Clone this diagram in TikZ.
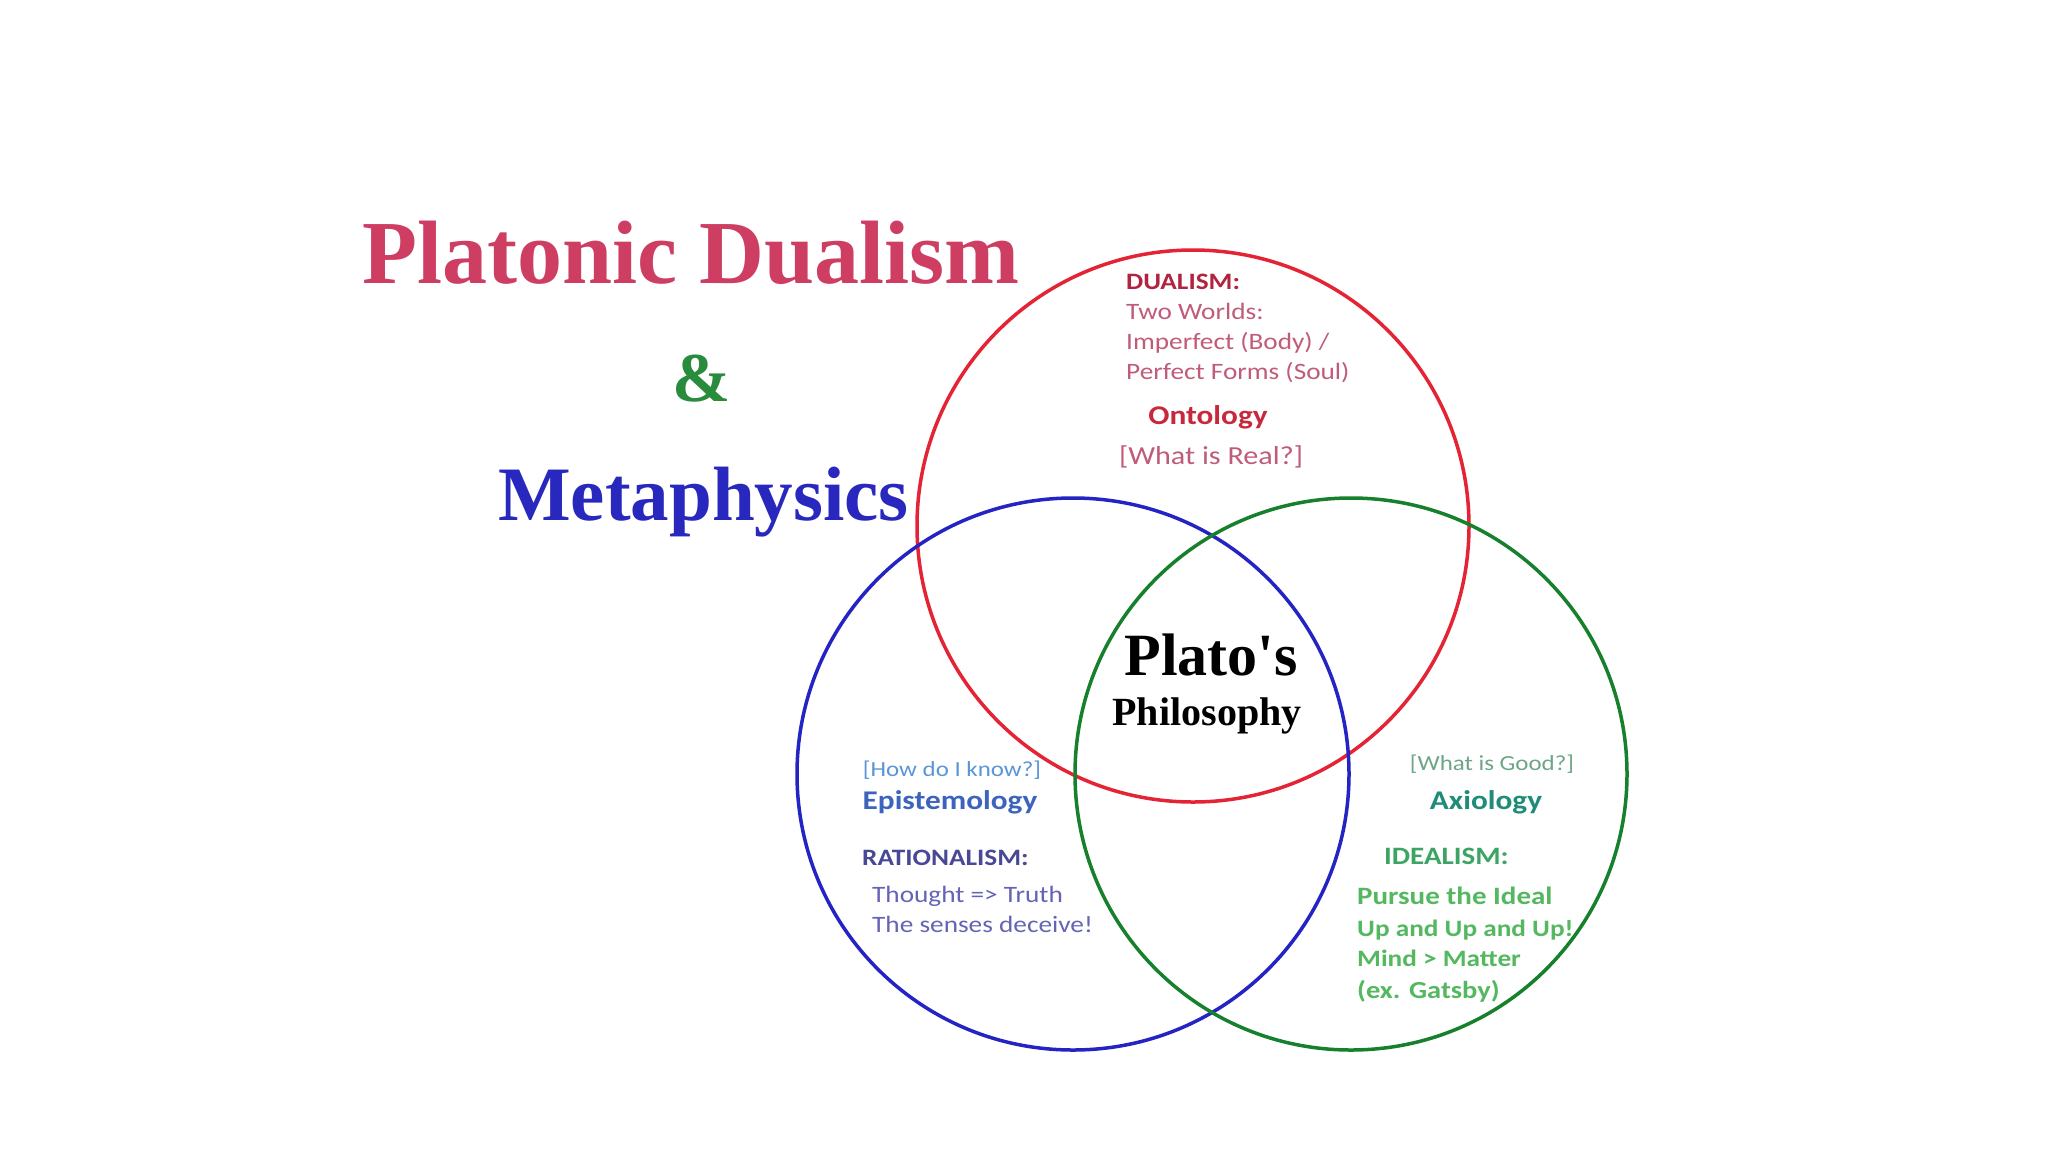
\documentclass[tikz,border=0pt]{standalone}
\usepackage{fontspec}
\setmainfont{Liberation Serif}
\newfontfamily\calfont[FakeStretch=1.16]{Carlito}
\definecolor{titlepink}{RGB}{206,62,98}
\definecolor{ampgreen}{RGB}{40,140,60}
\definecolor{metablue}{RGB}{40,40,190}
\definecolor{circred}{RGB}{228,36,52}
\definecolor{circblue}{RGB}{36,36,196}
\definecolor{circgreen}{RGB}{22,128,44}
\definecolor{dred}{RGB}{176,36,64}
\definecolor{mauve}{RGB}{192,92,122}
\definecolor{ontred}{RGB}{200,40,60}
\definecolor{lblue}{RGB}{90,150,215}
\definecolor{epblue}{RGB}{60,100,190}
\definecolor{ratblue}{RGB}{72,72,150}
\definecolor{thblue}{RGB}{100,100,180}
\definecolor{ggray}{RGB}{110,165,135}
\definecolor{axteal}{RGB}{30,140,120}
\definecolor{idgreen}{RGB}{60,165,100}
\definecolor{pgreen}{RGB}{84,184,96}
\tikzset{
  ring/.style={circle, draw, line width=3.5pt, inner sep=0pt, minimum size=552pt},
  title/.style={inner sep=0pt, font=\fontsize{90}{96}\selectfont\bfseries},
  lbl/.style={inner sep=0pt, font=\calfont\fontsize{23.5}{28}\selectfont},
  blbl/.style={inner sep=0pt, font=\calfont\bfseries\fontsize{23.5}{28}\selectfont},
  head/.style={inner sep=0pt, font=\calfont\bfseries\fontsize{27}{32}\selectfont},
}
\begin{document}
\begin{tikzpicture}[x=1pt,y=-1pt]
\useasboundingbox (0,0) rectangle (2048,1152);
\fill[white] (0,0) rectangle (2048,1152);
% circles
\node[ring, draw=circred] (red) at (1193,526) {};
\node[ring, draw=circblue] (blue) at (1073,774) {};
\node[ring, draw=circgreen] (green) at (1351,774) {};
% titles
\node[title, text=titlepink, anchor=base west] (t1) at (362,283) {Platonic Dualism};
\node[title, text=ampgreen, anchor=base] (t2) at (702,401) {\fontsize{70}{74}\selectfont\&};
\node[title, text=metablue, anchor=base west, font=\fontsize{77}{90}\selectfont\bfseries] (t3) at (498,520) {Metaphysics};
% red circle text
\node[blbl, text=dred, anchor=mid west] (r1) at (1126,287) {DUALISM:};
\node[lbl, text=mauve, anchor=mid west] (r2) at (1126,317) {Two Worlds:};
\node[lbl, text=mauve, anchor=mid west] (r3) at (1126,347) {Imperfect (Body) /};
\node[lbl, text=mauve, anchor=mid west] (r4) at (1126,377) {Perfect Forms (Soul)};
\node[head, text=ontred, anchor=mid] (r5) at (1208,422) {Ontology};
\node[lbl, text=mauve, anchor=mid, font=\calfont\fontsize{26}{30}\selectfont] (r6) at (1211,462) {[What is Real?]};
% center
\node[inner sep=0pt, font=\fontsize{60}{66}\selectfont\bfseries, anchor=mid] (c1) at (1211,673) {Plato\textquotesingle s};
\node[inner sep=0pt, font=\fontsize{40}{46}\selectfont\bfseries, anchor=mid] (c2) at (1207,723) {Philosophy};
% blue circle text
\node[lbl, text=lblue, anchor=mid, font=\calfont\fontsize{21.5}{26}\selectfont] (b1) at (952,774) {[How do I know?]};
\node[head, text=epblue, anchor=mid] (b2) at (950,807) {Epistemology};
\node[blbl, text=ratblue, anchor=mid west] (b3) at (862,863) {RATIONALISM:};
\node[lbl, text=thblue, anchor=mid west] (b4) at (872,900) {Thought => Truth};
\node[lbl, text=thblue, anchor=mid west] (b5) at (872,930) {The senses deceive!};
% green circle text
\node[lbl, text=ggray, anchor=mid, font=\calfont\fontsize{21.5}{26}\selectfont] (g1) at (1492,768) {[What is Good?]};
\node[head, text=axteal, anchor=mid] (g2) at (1486,807) {Axiology};
\node[blbl, text=idgreen, anchor=mid west, font=\calfont\bfseries\fontsize{25}{30}\selectfont] (g3) at (1384,862) {IDEALISM:};
\node[blbl, text=pgreen, anchor=mid west, font=\calfont\bfseries\fontsize{25}{30}\selectfont] (g4) at (1357,902) {Pursue the Ideal};
\node[blbl, text=pgreen, anchor=mid west] (g5) at (1357,934) {Up and Up and Up!};
\node[blbl, text=pgreen, anchor=mid west] (g6) at (1357,964) {Mind > Matter};
\node[blbl, text=pgreen, anchor=mid west, font=\calfont\bfseries\fontsize{24.5}{30}\selectfont] (g7) at (1357,996) {(ex. Gatsby)};
\end{tikzpicture}
\end{document}
